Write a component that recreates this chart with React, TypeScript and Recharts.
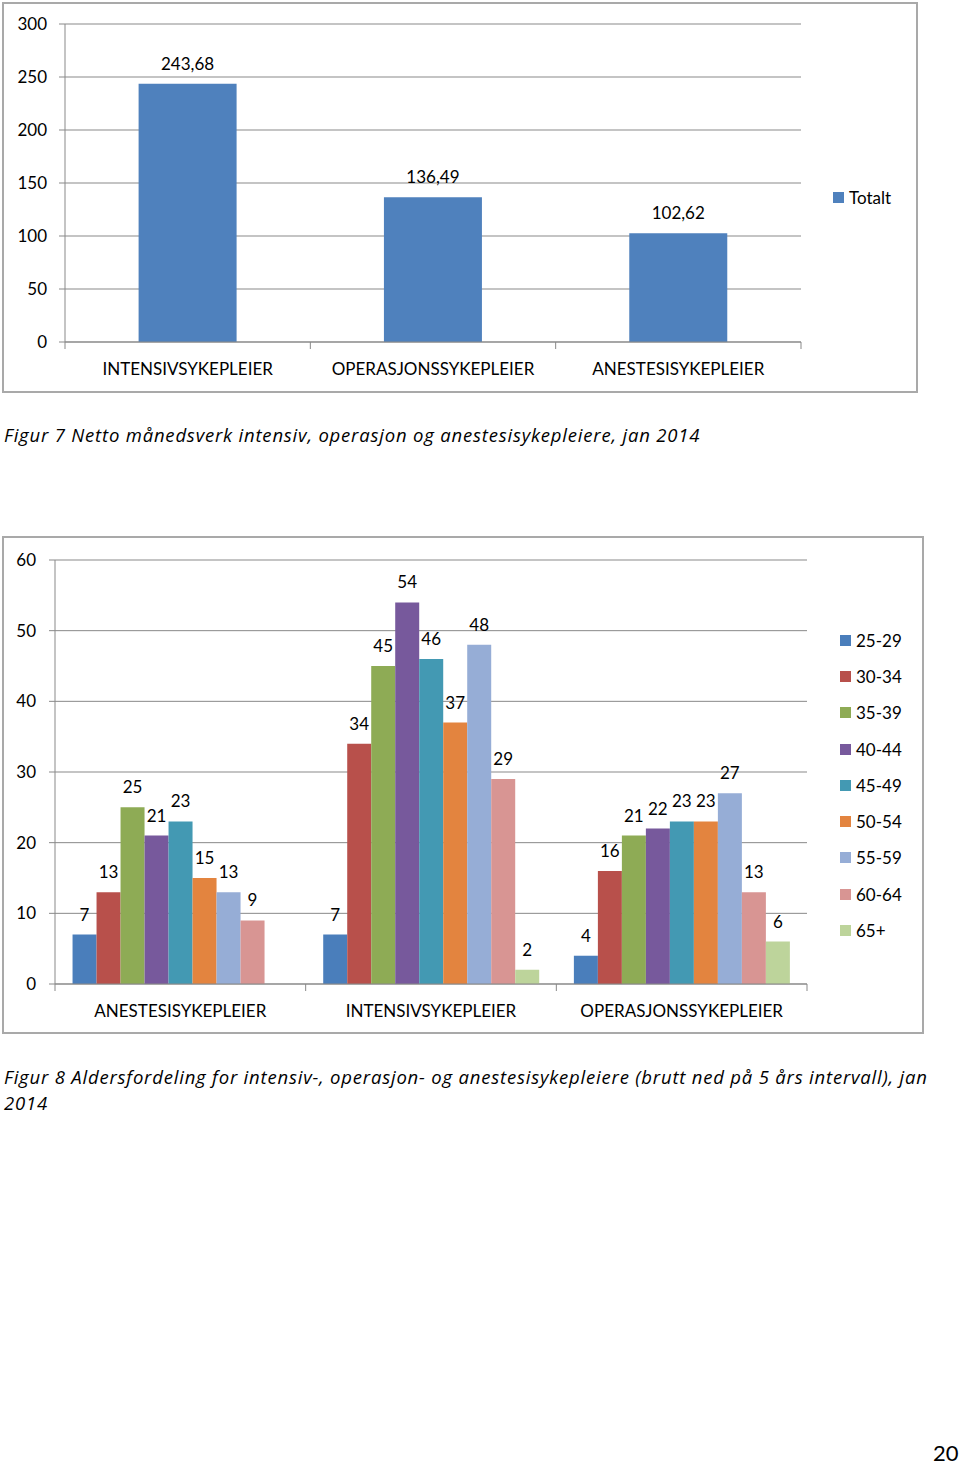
import React from 'react';
import { BarChart, Bar, XAxis, YAxis, CartesianGrid, Legend, LabelList } from 'recharts';

// Figur 7 - netto månedsverk
const totalCategories = ['INTENSIVSYKEPLEIER', 'OPERASJONSSYKEPLEIER', 'ANESTESISYKEPLEIER'];
const totalValues = [243.68, 136.49, 102.62];
const totalTicks = [0, 50, 100, 150, 200, 250, 300];

// Figur 8 - aldersfordeling
const ageCategories = ['ANESTESISYKEPLEIER', 'INTENSIVSYKEPLEIER', 'OPERASJONSSYKEPLEIER'];
const ageGroups = ['25-29', '30-34', '35-39', '40-44', '45-49', '50-54', '55-59', '60-64', '65+'];
const anestesiValues = [7, 13, 25, 21, 23, 15, 13, 9, null];
const intensivValues = [7, 34, 45, 54, 46, 37, 48, 29, 2];
const operasjonValues = [4, 16, 21, 22, 23, 23, 27, 13, 6];
const ageTicks = [0, 10, 20, 30, 40, 50, 60];
const ageColors = ['#4a7ebb', '#b8504b', '#8eab55', '#77599c', '#4399b3', '#e3843f', '#96add6', '#d89593', '#bdd49b'];

const FONT = 'Lato, "Open Sans", sans-serif';
const CAPTION_FONT = '"Open Sans", Lato, sans-serif';
const GRID = '#898989';

const totalData = totalCategories.map((name, i) => ({ name, Totalt: totalValues[i] }));

const ageRows = [anestesiValues, intensivValues, operasjonValues];
const ageData = ageCategories.map((name, i) => {
  const row: Record<string, any> = { name };
  ageGroups.forEach((g, j) => {
    row[g] = ageRows[i][j];
  });
  return row;
});

// Excel style category axis: tick marks between categories, label centred below
const makeCategoryTick = (band: number, count: number) => (props: any) => {
  const { x, y, payload, index } = props;
  return (
    <g>
      <line x1={x - band / 2} x2={x - band / 2} y1={y} y2={y + 7} stroke={GRID} />
      {index === count - 1 && <line x1={x + band / 2} x2={x + band / 2} y1={y} y2={y + 7} stroke={GRID} />}
      <text x={x} y={y + 26} textAnchor="middle" dominantBaseline="central" fill="#000" fontSize={17} fontFamily={FONT}>
        {payload.value}
      </text>
    </g>
  );
};

const renderLegend = (rowHeight: number) => (props: any) => {
  const { payload } = props;
  return (
    <div style={{ fontFamily: FONT, fontSize: 17, color: '#000' }}>
      {payload.map((entry: any) => (
        <div key={entry.value} style={{ display: 'flex', alignItems: 'center', height: rowHeight }}>
          <span style={{ display: 'inline-block', width: 11, height: 11, background: entry.color, marginRight: 5 }} />
          <span>{entry.value}</span>
        </div>
      ))}
    </div>
  );
};

const formatComma = (v: any) => (v === null || v === undefined ? '' : String(v).replace('.', ','));
const formatPlain = (v: any) => (v === null || v === undefined ? '' : String(v));

const captionStyle: React.CSSProperties = {
  position: 'absolute',
  left: 4,
  fontFamily: CAPTION_FONT,
  fontStyle: 'italic',
  fontSize: 18.5,
  letterSpacing: 0.8,
  lineHeight: '26px',
  color: '#000',
  whiteSpace: 'nowrap',
};

const boxStyle: React.CSSProperties = {
  position: 'absolute',
  border: '2px solid #a9a9a9',
  boxSizing: 'border-box',
  background: '#fff',
};

export default function App() {
  const w1 = 912;
  const h1 = 387;
  const m1 = { top: 20, right: 115, bottom: 19, left: 0 };
  const y1w = 61;
  const band1 = (w1 - m1.right - m1.left - y1w) / totalCategories.length;

  const w2 = 918;
  const h2 = 494;
  const m2 = { top: 22, right: 115, bottom: 18, left: 0 };
  const y2w = 51;
  const band2 = (w2 - m2.right - m2.left - y2w) / ageCategories.length;

  return (
    <div style={{ position: 'absolute', left: 0, top: 0, width: 960, height: 1463, background: '#fff', overflow: 'hidden' }}>
      <div style={{ ...boxStyle, left: 2, top: 2, width: 916, height: 391 }}>
        <BarChart width={w1} height={h1} data={totalData} margin={m1} barCategoryGap="30%">
          <CartesianGrid vertical={false} stroke={GRID} />
          <XAxis
            dataKey="name"
            height={30}
            axisLine={{ stroke: GRID }}
            tickLine={false}
            tickSize={0}
            tickMargin={0}
            interval={0}
            tick={makeCategoryTick(band1, totalCategories.length)}
          />
          <YAxis
            width={y1w}
            domain={[0, 300]}
            ticks={totalTicks}
            interval={0}
            axisLine={{ stroke: GRID }}
            tickLine={{ stroke: GRID }}
            tickSize={6}
            tickMargin={12}
            tick={{ fill: '#000', fontSize: 17, fontFamily: FONT }}
          />
          <Legend
            layout="vertical"
            align="center"
            verticalAlign="middle"
            content={renderLegend(20)}
            wrapperStyle={{ left: 829, top: 183, width: 80 }}
          />
          <Bar dataKey="Totalt" fill="#4f81bd" isAnimationActive={false}>
            <LabelList
              dataKey="Totalt"
              position="top"
              offset={14}
              formatter={formatComma}
              style={{ fill: '#000', fontSize: 17, fontFamily: FONT }}
            />
          </Bar>
        </BarChart>
      </div>

      <div style={{ ...captionStyle, top: 422 }}>
        Figur 7 Netto månedsverk intensiv, operasjon og anestesisykepleiere, jan 2014
      </div>

      <div style={{ ...boxStyle, left: 2, top: 536, width: 922, height: 498 }}>
        <BarChart width={w2} height={h2} data={ageData} margin={m2} barCategoryGap="7%" barGap={0}>
          <CartesianGrid vertical={false} stroke={GRID} />
          <XAxis
            dataKey="name"
            height={30}
            axisLine={{ stroke: GRID }}
            tickLine={false}
            tickSize={0}
            tickMargin={0}
            interval={0}
            tick={makeCategoryTick(band2, ageCategories.length)}
          />
          <YAxis
            width={y2w}
            domain={[0, 60]}
            ticks={ageTicks}
            interval={0}
            axisLine={{ stroke: GRID }}
            tickLine={{ stroke: GRID }}
            tickSize={6}
            tickMargin={13}
            tick={{ fill: '#000', fontSize: 17, fontFamily: FONT }}
          />
          <Legend
            layout="vertical"
            align="center"
            verticalAlign="middle"
            content={renderLegend(36.3)}
            wrapperStyle={{ left: 836, top: 84, width: 80 }}
          />
          {ageGroups.map((g, i) => (
            <Bar key={g} dataKey={g} fill={ageColors[i]} isAnimationActive={false}>
              <LabelList
                dataKey={g}
                position="top"
                offset={14}
                formatter={formatPlain}
                style={{ fill: '#000', fontSize: 17, fontFamily: FONT }}
              />
            </Bar>
          ))}
        </BarChart>
      </div>

      <div style={{ ...captionStyle, top: 1064 }}>
        Figur 8 Aldersfordeling for intensiv-, operasjon- og anestesisykepleiere (brutt ned på 5 års intervall), jan
        <br />
        2014
      </div>

      <div style={{ position: 'absolute', left: 933, top: 1439, fontFamily: FONT, fontSize: 22, lineHeight: '28px', color: '#000' }}>
        20
      </div>
    </div>
  );
}
